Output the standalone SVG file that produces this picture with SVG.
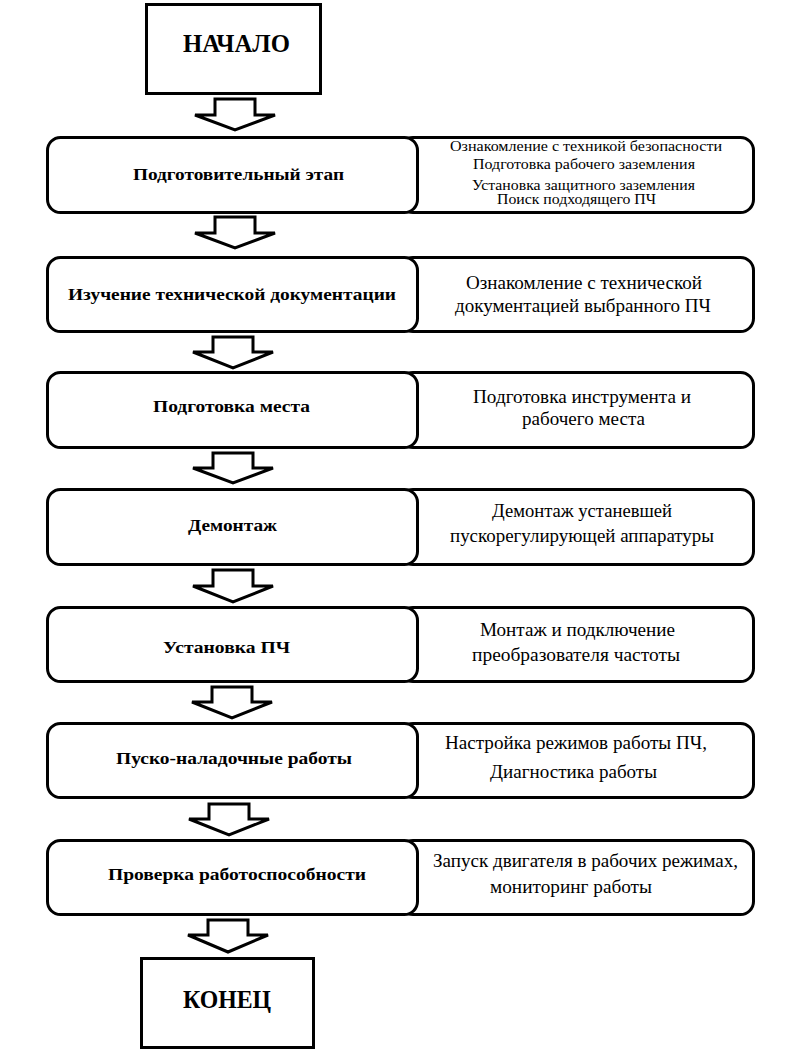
<svg xmlns="http://www.w3.org/2000/svg" width="787" height="1064" viewBox="0 0 787 1064">
<style>
.box{fill:#fff;stroke:#000;stroke-width:3}
.arr{fill:#fff;stroke:#000;stroke-width:3;stroke-linejoin:miter}
text{fill:#000}
.b{font-weight:bold;font-size:17.5px}
.big{font-weight:bold;font-size:26px}
.r{font-size:18px}
.s{font-size:15px}
</style>
<rect width="787" height="1064" fill="#fff"/>
<g id="connectors">
<polygon class="arr" points="215,99 255,99 255,115 275,115 235,130 195,115 215,115"/>
<polygon class="arr" points="215,217 255,217 255,233 275,233 235,248 195,233 215,233"/>
<polygon class="arr" points="213,337 253,337 253,352 273,352 233,368 193,352 213,352"/>
<polygon class="arr" points="213,453 253,453 253,468 273,468 233,483 193,468 213,468"/>
<polygon class="arr" points="213,570 253,570 253,586 273,586 233,602 193,586 213,586"/>
<polygon class="arr" points="212,687 252,687 252,702 272,702 232,718 192,702 212,702"/>
<polygon class="arr" points="209,804 249,804 249,819 269,819 229,835 189,819 209,819"/>
<polygon class="arr" points="208,920 248,920 248,935 268,935 228,952 188,935 208,935"/>
</g>
<g font-family="Liberation Serif, Times New Roman, serif">
<g id="start">
<rect class="box" x="146.5" y="4.5" width="174" height="89"/>
<text class="big" x="236.5" y="52" text-anchor="middle" textLength="107" lengthAdjust="spacingAndGlyphs">НАЧАЛО</text>
</g>
<g id="row1">
<rect class="box" x="400" y="137.5" width="353.5" height="75" rx="13"/>
<rect class="box" x="47.5" y="137.5" width="370" height="75" rx="13"/>
<text class="b" x="238.5" y="180" text-anchor="middle" textLength="211" lengthAdjust="spacingAndGlyphs">Подготовительный этап</text>
<text class="s" x="586" y="151" text-anchor="middle" textLength="272" lengthAdjust="spacingAndGlyphs">Ознакомление с техникой безопасности</text>
<text class="s" x="584" y="169" text-anchor="middle" textLength="222" lengthAdjust="spacingAndGlyphs">Подготовка рабочего заземления</text>
<text class="s" x="583.5" y="190" text-anchor="middle" textLength="223" lengthAdjust="spacingAndGlyphs">Установка защитного заземления</text>
<text class="s" x="576.5" y="204" text-anchor="middle" textLength="159" lengthAdjust="spacingAndGlyphs">Поиск подходящего ПЧ</text>
</g>
<g id="row2">
<rect class="box" x="400" y="257.5" width="353.5" height="74" rx="13"/>
<rect class="box" x="47.5" y="257.5" width="370" height="74" rx="13"/>
<text class="b" x="232" y="300" text-anchor="middle" textLength="328" lengthAdjust="spacingAndGlyphs">Изучение технической документации</text>
<text class="r" x="584" y="289" text-anchor="middle" textLength="236" lengthAdjust="spacingAndGlyphs">Ознакомление с технической</text>
<text class="r" x="583" y="312" text-anchor="middle" textLength="256" lengthAdjust="spacingAndGlyphs">документацией выбранного ПЧ</text>
</g>
<g id="row3">
<rect class="box" x="400" y="372.5" width="353.5" height="75" rx="13"/>
<rect class="box" x="47.5" y="372.5" width="370" height="75" rx="13"/>
<text class="b" x="231.5" y="412" text-anchor="middle" textLength="157" lengthAdjust="spacingAndGlyphs">Подготовка места</text>
<text class="r" x="582" y="403" text-anchor="middle" textLength="218" lengthAdjust="spacingAndGlyphs">Подготовка инструмента и</text>
<text class="r" x="583.5" y="425" text-anchor="middle" textLength="123" lengthAdjust="spacingAndGlyphs">рабочего места</text>
</g>
<g id="row4">
<rect class="box" x="400" y="489.5" width="353.5" height="75" rx="13"/>
<rect class="box" x="47.5" y="489.5" width="370" height="75" rx="13"/>
<text class="b" x="232.5" y="531" text-anchor="middle" textLength="89" lengthAdjust="spacingAndGlyphs">Демонтаж</text>
<text class="r" x="582" y="517" text-anchor="middle" textLength="180" lengthAdjust="spacingAndGlyphs">Демонтаж устаневшей</text>
<text class="r" x="582" y="542" text-anchor="middle" textLength="264" lengthAdjust="spacingAndGlyphs">пускорегулирующей аппаратуры</text>
</g>
<g id="row5">
<rect class="box" x="400" y="607.5" width="353.5" height="74" rx="13"/>
<rect class="box" x="47.5" y="607.5" width="370" height="74" rx="13"/>
<text class="b" x="226.5" y="653" text-anchor="middle" textLength="127" lengthAdjust="spacingAndGlyphs">Установка ПЧ</text>
<text class="r" x="577.5" y="636" text-anchor="middle" textLength="195" lengthAdjust="spacingAndGlyphs">Монтаж и подключение</text>
<text class="r" x="576" y="661" text-anchor="middle" textLength="208" lengthAdjust="spacingAndGlyphs">преобразователя частоты</text>
</g>
<g id="row6">
<rect class="box" x="400" y="723.5" width="353.5" height="74" rx="13"/>
<rect class="box" x="47.5" y="723.5" width="370" height="74" rx="13"/>
<text class="b" x="234" y="764" text-anchor="middle" textLength="236" lengthAdjust="spacingAndGlyphs">Пуско-наладочные работы</text>
<text class="r" x="576" y="749" text-anchor="middle" textLength="262" lengthAdjust="spacingAndGlyphs">Настройка режимов работы ПЧ,</text>
<text class="r" x="573.5" y="778" text-anchor="middle" textLength="167" lengthAdjust="spacingAndGlyphs">Диагностика работы</text>
</g>
<g id="row7">
<rect class="box" x="400" y="840.5" width="353.5" height="74" rx="13"/>
<rect class="box" x="47.5" y="840.5" width="370" height="74" rx="13"/>
<text class="b" x="237" y="880" text-anchor="middle" textLength="258" lengthAdjust="spacingAndGlyphs">Проверка работоспособности</text>
<text class="r" x="585.5" y="867" text-anchor="middle" textLength="305" lengthAdjust="spacingAndGlyphs">Запуск двигателя в рабочих режимах,</text>
<text class="r" x="571" y="893" text-anchor="middle" textLength="162" lengthAdjust="spacingAndGlyphs">мониторинг работы</text>
</g>
<g id="end">
<rect class="box" x="141.5" y="958.5" width="172" height="89"/>
<text class="big" x="227" y="1008" text-anchor="middle" textLength="88" lengthAdjust="spacingAndGlyphs">КОНЕЦ</text>
</g>
</g>
</svg>
